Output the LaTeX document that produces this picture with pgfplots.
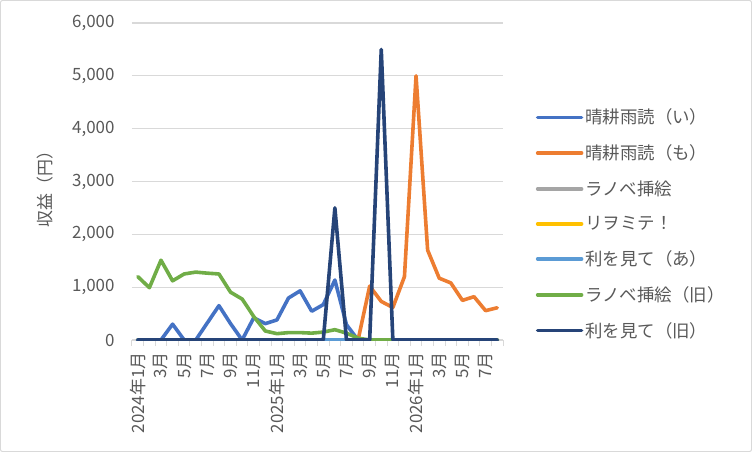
\documentclass[border=0pt]{standalone}
\usepackage{fontspec}
\setmainfont{Noto Sans CJK JP}
\usepackage{pgfplots}
\usepackage{pgfplotstable}
\pgfplotsset{compat=1.18}

\definecolor{sIi}{HTML}{4472C4}
\definecolor{sMo}{HTML}{ED7D31}
\definecolor{sRa}{HTML}{A5A5A5}
\definecolor{sRi}{HTML}{FFC000}
\definecolor{sAa}{HTML}{5B9BD5}
\definecolor{sRo}{HTML}{70AD47}
\definecolor{sNa}{HTML}{264478}
\definecolor{gridc}{HTML}{D9D9D9}
\definecolor{textc}{HTML}{595959}

% monthly revenue, 2024/1 .. 2026/8 (i = month index)
\pgfplotstableread{
i  ii    mo    ra  ri  aa  ro    na
0  0     0     0   0   0   1200  0
1  0     0     0   0   0   990   0
2  0     0     0   0   0   1510  0
3  300   0     0   0   0   1120  0
4  0     0     0   0   0   1250  0
5  0     0     0   0   0   1285  0
6  325   0     0   0   0   1265  0
7  650   0     0   0   0   1250  0
8  310   0     0   0   0   905   0
9  0     0     0   0   0   775   0
10 420   0     0   0   0   445   0
11 310   0     0   0   0   170   0
12 380   0     0   0   0   120   0
13 795   0     0   0   0   140   0
14 930   0     0   0   0   140   0
15 545   0     0   0   0   130   0
16 670   0     0   0   0   150   0
17 1135  0     0   0   0   195   2500
18 290   0     0   0   0   130   0
19 0     0     0   0   0   35    0
20 0     1020  0   0   0   0     0
21 0     730   0   0   0   0     5500
22 0     615   0   0   0   0     0
23 0     1200  0   0   0   0     0
24 0     5000  0   0   0   0     0
25 0     1700  0   0   0   0     0
26 0     1170  0   0   0   0     0
27 0     1080  0   0   0   0     0
28 0     750   0   0   0   0     0
29 0     820   0   0   0   0     0
30 0     555   0   0   0   0     0
31 0     610   0   0   0   0     0
}\revtable

\begin{document}
\begin{tikzpicture}[font=\fontsize{17}{20}\selectfont]
\useasboundingbox (-132bp,-112bp) rectangle (620bp,340bp);
\draw[gridc, line width=1bp, rounded corners=2bp] (-131.5bp,-111.5bp) rectangle (619.5bp,339.5bp);
\begin{axis}[
    at={(0bp,0bp)}, anchor=south west,
    scale only axis, width=371bp, height=317bp,
    xmin=-0.5, xmax=31.5, ymin=0, ymax=6000,
    axis x line*=bottom, axis y line*=left,
    y axis line style={draw=none},
    x axis line style={gridc, line width=1.3bp},
    ytick={0,1000,...,6000},
    ymajorgrids, grid style={gridc, line width=1.3bp},
    xtick={0,2,...,30},
    xticklabels={2024年1月,3月,5月,7月,9月,11月,2025年1月,3月,5月,7月,9月,11月,2026年1月,3月,5月,7月},
    minor xtick={-0.5,0.5,...,31.5},
    major tick style={draw=none},
    minor x tick style={gridc, line width=1bp},
    tick align=outside,
    major tick length=9bp, minor tick length=6bp,
    x tick label style={rotate=90, anchor=east, text=textc},
    y tick label style={text=textc, xshift=-5bp},
    /pgf/number format/assume math mode=true,
    /pgf/number format/1000 sep={,},
    scaled y ticks=false,
    ylabel={収益（円）},
    ylabel style={at={(axis description cs:-0.234,0.49)}, anchor=center, text=textc},
    legend cell align=left,
    legend style={at={(1.08,0.366)}, anchor=west, draw=none, fill=none,
        row sep=15.5bp, text=textc, font=\fontsize{17.5}{20}\selectfont},
    legend image code/.code={\draw[#1, line width=3.5bp, line cap=round] (0bp,0bp) -- (44bp,0bp);},
    every axis plot/.append style={line width=3.6bp, line join=round, line cap=round, no markers},
]
\addplot[sIi] table[x=i, y=ii] {\revtable};
\addplot[sMo] table[x=i, y=mo] {\revtable};
\addplot[sRa] table[x=i, y=ra] {\revtable};
\addplot[sRi] table[x=i, y=ri] {\revtable};
\addplot[sAa] table[x=i, y=aa] {\revtable};
\addplot[sRo] table[x=i, y=ro] {\revtable};
\addplot[sNa] table[x=i, y=na] {\revtable};
\legend{晴耕雨読（い）,晴耕雨読（も）,ラノベ挿絵,リヲミテ！,利を見て（あ）,ラノベ挿絵（旧）,利を見て（旧）}
\end{axis}
\end{tikzpicture}
\end{document}
